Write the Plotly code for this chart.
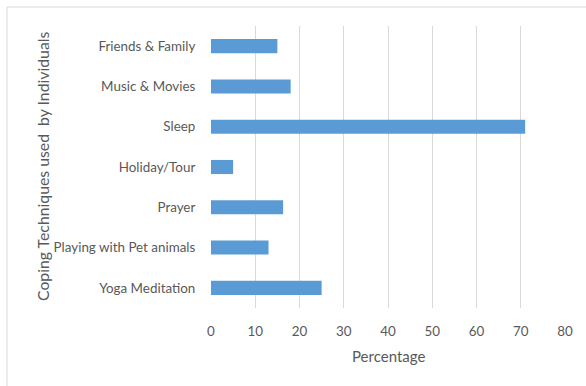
import plotly.graph_objects as go

categories = ["Friends & Family", "Music & Movies", "Sleep", "Holiday/Tour",
              "Prayer", "Playing with Pet animals", "Yoga Meditation"]
values = [15, 18, 71, 5, 16.3, 13, 25]
x_ticks = [0, 10, 20, 30, 40, 50, 60, 70, 80]

W, H = 586, 386
L, R, T, B = 211, 21, 26, 78
pw, ph = W - L - R, H - T - B

font_family = "Lato, 'Open Sans', sans-serif"
gray = "#595959"
fs = 13.4

fig = go.Figure(go.Bar(
    y=categories, x=values, orientation="h",
    marker=dict(color="#5b9bd5", line=dict(width=0)),
    width=0.35,
))

fig.update_layout(
    width=W, height=H,
    margin=dict(l=L, r=R, t=T, b=B, pad=0),
    paper_bgcolor="white", plot_bgcolor="white",
    showlegend=False,
    font=dict(family=font_family, size=fs, color=gray),
    xaxis=dict(range=[0, 80], tickvals=x_ticks, showgrid=True,
               gridcolor="#d9d9d9", gridwidth=1, zeroline=False,
               showline=False, ticks="outside", ticklen=11, tickcolor="rgba(0,0,0,0)",
               tickfont=dict(size=fs, color=gray), fixedrange=True),
    yaxis=dict(autorange="reversed", showgrid=False, zeroline=False,
               showline=False, ticks="outside", ticklen=12, tickcolor="rgba(0,0,0,0)",
               tickfont=dict(size=fs, color=gray)),
    annotations=[
        dict(text="Percentage", xref="paper", yref="paper", x=0.5, y=0,
             xanchor="center", yanchor="middle", yshift=-(356 - (T + ph)),
             showarrow=False, font=dict(size=15, color=gray)),
        dict(text="Coping Techniques used  by Individuals", xref="paper", yref="paper",
             x=0, y=0.5, xanchor="center", yanchor="middle", xshift=-(L - 42),
             textangle=-90, showarrow=False, font=dict(size=15.8, color=gray)),
    ],
    shapes=[dict(type="rect", xref="paper", yref="paper",
                 x0=(7 - L) / pw, x1=(W + 5 - L) / pw,
                 y0=1 - (H + 5 - T) / ph, y1=1 - (7 - T) / ph,
                 line=dict(color="#d9d9d9", width=1), fillcolor="rgba(0,0,0,0)",
                 layer="below")],
)

fig.write_html("out.html")
